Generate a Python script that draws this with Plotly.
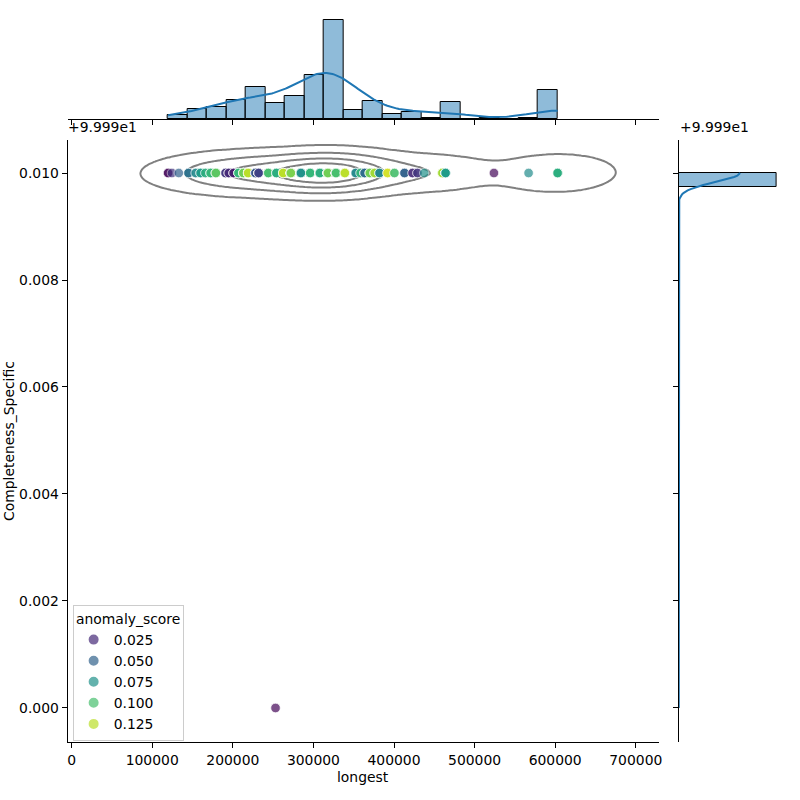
import numpy as np
import plotly.graph_objects as go
from plotly.colors import sample_colorscale

# ---------------- data ----------------
longest = [119700, 124500, 133000, 145000, 154000, 160000, 166000, 172500, 179000, 191000,
           195000, 201000, 207000, 213000, 219000, 228000, 232000, 244000, 254000, 262500,
           272000, 284500, 296000, 308000, 318000, 328000, 339000, 352500, 358500, 363500,
           370000, 376000, 382000, 392000, 400500, 413000, 423000, 429000, 437500, 460000,
           464000, 524000, 567000, 603000, 253000]
completeness = [100.0] * 44 + [99.99]
anomaly_score = [0.012, 0.030, 0.050, 0.058, 0.070, 0.080, 0.090, 0.095, 0.105, 0.030,
                 0.025, 0.020, 0.095, 0.110, 0.125, 0.045, 0.035, 0.100, 0.090, 0.125,
                 0.112, 0.075, 0.095, 0.090, 0.110, 0.100, 0.125, 0.070, 0.095, 0.055,
                 0.110, 0.120, 0.070, 0.130, 0.100, 0.050, 0.025, 0.030, 0.075, 0.120,
                 0.080, 0.012, 0.072, 0.090, 0.012]
n_records = [2, 1, 1, 3, 2, 3, 2, 4, 5, 3,
             4, 4, 5, 6, 12, 10, 10, 5, 5, 5,
             12, 11, 22, 22, 50, 49, 4, 3, 2, 5,
             5, 4, 4, 3, 2, 3, 2, 2, 1, 8,
             9, 1, 1, 29, 1]
legend_levels = [0.025, 0.050, 0.075, 0.100, 0.125]
x_ticks = [0, 100000, 200000, 300000, 400000, 500000, 600000, 700000]
y_offset = 99.99
y_ticks = [0.000, 0.002, 0.004, 0.006, 0.008, 0.010]

# ---------------- derived ----------------
x_all = np.repeat(np.array(longest, float), n_records)
y_all = np.repeat(np.round(np.array(completeness) - y_offset, 6), n_records)
s_all = np.repeat(np.array(anomaly_score), n_records)
n = len(x_all)

vmin, vmax = 0.0096, 0.138
def cmap(v):
    t = np.clip((np.asarray(v) - vmin) / (vmax - vmin), 0, 1)
    return sample_colorscale("Viridis", list(t))

BLUE = "#1f77b4"
FONT = "DejaVu Sans"
FS = 13.9

fig = go.Figure()

# main scatter
fig.add_trace(go.Scatter(
    x=x_all, y=y_all, mode="markers", showlegend=False, hoverinfo="skip",
    marker=dict(size=9.5, color=cmap(s_all), opacity=0.7,
                line=dict(color="white", width=0.7)),
    xaxis="x", yaxis="y"))

# 2D KDE contours (seaborn-like iso-proportion levels)
data = np.vstack([x_all, y_all])
cov = np.cov(data)
factor = n ** (-1.0 / 6)
kcov = cov * factor ** 2
kinv = np.linalg.inv(kcov)
bwx, bwy = np.sqrt(np.diag(kcov))
gx = np.linspace(x_all.min() - 3 * bwx, x_all.max() + 3 * bwx, 200)
gy = np.linspace(y_all.min() - 3 * bwy, y_all.max() + 3 * bwy, 200)
GX, GY = np.meshgrid(gx, gy)
ux = np.array(longest, float)
uy = np.round(np.array(completeness) - y_offset, 6)
w = np.array(n_records, float)
dens = np.zeros_like(GX)
for xi, yi, wi in zip(ux, uy, w):
    dx = GX - xi
    dy = GY - yi
    q = kinv[0, 0] * dx * dx + 2 * kinv[0, 1] * dx * dy + kinv[1, 1] * dy * dy
    dens += wi * np.exp(-0.5 * q)
dens /= w.sum() * 2 * np.pi * np.sqrt(np.linalg.det(kcov))
isoprop = np.linspace(0.05, 1, 5)[:-1]
vals = np.sort(dens.ravel())[::-1]
cum = np.cumsum(vals) / vals.sum()
levels = vals[np.searchsorted(cum, 1 - isoprop)]
for L in levels:
    fig.add_trace(go.Contour(
        x=gx, y=gy, z=dens, autocontour=False,
        contours=dict(start=L, end=L, size=max(L, 1e-30), coloring="lines"),
        colorscale=[[0, "gray"], [1, "gray"]],
        line=dict(color="gray", width=2), showscale=False, hoverinfo="skip",
        showlegend=False, xaxis="x", yaxis="y"))

# top marginal histogram + kde
counts, edges = np.histogram(x_all, bins=20)
bw_bin = edges[1] - edges[0]
fig.add_trace(go.Bar(
    x=(edges[:-1] + edges[1:]) / 2, y=counts, width=bw_bin, showlegend=False,
    marker=dict(color="rgba(31,119,180,0.5)", line=dict(color="black", width=1)),
    hoverinfo="skip", xaxis="x2", yaxis="y2"))
sx = np.std(x_all, ddof=1) * n ** (-0.2)
kx = np.linspace(x_all.min(), x_all.max(), 200)
kdx = np.exp(-0.5 * ((kx[:, None] - x_all[None, :]) / sx) ** 2).sum(1) / (n * sx * np.sqrt(2 * np.pi))
fig.add_trace(go.Scatter(x=kx, y=kdx * n * bw_bin, mode="lines", showlegend=False,
                         line=dict(color=BLUE, width=2), hoverinfo="skip",
                         xaxis="x2", yaxis="y2"))

# right marginal histogram + kde
ycounts, yedges = np.histogram(y_all, bins=38)
ybw = yedges[1] - yedges[0]
fig.add_trace(go.Bar(
    y=(yedges[:-1] + yedges[1:]) / 2, x=ycounts, width=ybw, orientation="h",
    showlegend=False,
    marker=dict(color="rgba(31,119,180,0.5)", line=dict(color="black", width=1)),
    hoverinfo="skip", xaxis="x3", yaxis="y3"))
sy = np.std(y_all, ddof=1) * n ** (-0.2)
ky = np.linspace(y_all.min(), y_all.max(), 400)
kdy = np.exp(-0.5 * ((ky[:, None] - y_all[None, :]) / sy) ** 2).sum(1) / (n * sy * np.sqrt(2 * np.pi))
fig.add_trace(go.Scatter(x=kdy * n * ybw, y=ky, mode="lines", showlegend=False,
                         line=dict(color=BLUE, width=2), hoverinfo="skip",
                         xaxis="x3", yaxis="y3"))

# legend entries
for lv, c in zip(legend_levels, cmap(legend_levels)):
    fig.add_trace(go.Scatter(x=[None], y=[None], mode="markers", name=f"{lv:.3f}",
                             marker=dict(size=9, color=c, opacity=0.7,
                                         line=dict(color="white", width=0.7)),
                             xaxis="x", yaxis="y"))

def px_x(p):
    return p / 800.0

def px_y(p):
    return 1 - p / 800.0

axis_common = dict(showline=True, linecolor="black", linewidth=1.1, ticks="outside",
                   ticklen=5, tickwidth=1.1, tickcolor="black", showgrid=False,
                   zeroline=False, tickfont=dict(family=FONT, size=FS, color="black"))

xr = [-4900, 728400]
yr = [-0.000636, 0.010617]
ymax_top = counts.max() * 1.05
xmax_right = ycounts.max() * 1.05

fig.update_layout(
    width=800, height=800, margin=dict(l=0, r=0, t=0, b=0),
    paper_bgcolor="white", plot_bgcolor="white",
    font=dict(family=FONT, size=FS, color="black"),
    bargap=0,
    xaxis=dict(domain=[px_x(68), px_x(662)], range=xr, tickvals=x_ticks,
               ticktext=[str(v) for v in x_ticks], anchor="y", **axis_common),
    yaxis=dict(domain=[px_y(742), px_y(140)], range=yr, tickvals=y_ticks,
               ticktext=[f"{v:.3f}" for v in y_ticks], anchor="x", **axis_common),
    xaxis2=dict(domain=[px_x(68), px_x(662)], range=xr, tickvals=x_ticks,
                showticklabels=False, anchor="y2", **axis_common),
    yaxis2=dict(domain=[px_y(119), px_y(15)], range=[0, ymax_top], visible=False,
                anchor="x2"),
    xaxis3=dict(domain=[px_x(682), px_x(785)], range=[0, xmax_right], visible=False,
                anchor="y3"),
    yaxis3=dict(domain=[px_y(742), px_y(140)], range=yr, tickvals=y_ticks,
                showticklabels=False, anchor="x3", **axis_common),
    legend=dict(x=px_x(73), y=px_y(605), xanchor="left", yanchor="top",
                bgcolor="white", bordercolor="#cccccc", borderwidth=1,
                font=dict(family=FONT, size=FS, color="black"),
                title=dict(text="anomaly_score", side="top center",
                           font=dict(family=FONT, size=FS)),
                itemsizing="constant"),
    annotations=[
        dict(text="longest", x=px_x(365), y=px_y(777), xref="paper", yref="paper",
             xanchor="center", yanchor="middle",
             showarrow=False, font=dict(family=FONT, size=FS)),
        dict(text="Completeness_Specific", x=px_x(9), y=px_y(441), xref="paper",
             yref="paper", textangle=-90, xanchor="center", yanchor="middle",
             showarrow=False, font=dict(family=FONT, size=FS)),
        dict(text="+9.999e1", x=px_x(66), y=px_y(127), xref="paper", yref="paper",
             xanchor="left", yanchor="middle", showarrow=False,
             font=dict(family=FONT, size=FS)),
        dict(text="+9.999e1", x=px_x(681), y=px_y(127), xref="paper", yref="paper",
             xanchor="left", yanchor="middle", showarrow=False,
             font=dict(family=FONT, size=FS)),
    ],
)

fig.write_html("out.html")
